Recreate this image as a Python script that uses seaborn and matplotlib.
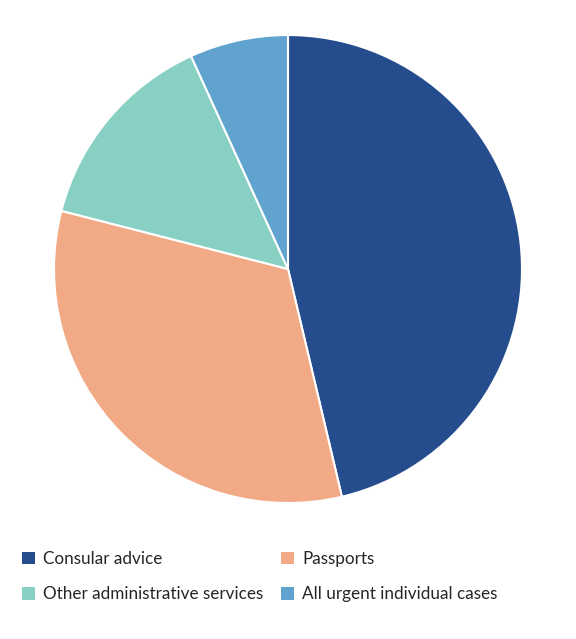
import matplotlib
matplotlib.use("Agg")
import matplotlib.pyplot as plt
import seaborn as sns
from matplotlib.patches import Patch

categories = ["Consular advice", "Passports", "Other administrative services", "All urgent individual cases"]
values = [46.3, 32.7, 14.2, 6.8]
colors = ["#254D8E", "#F1AA85", "#88D0C3", "#5FA3CE"]

sns.set_theme(style="white")
plt.rcParams['font.family'] = ['Lato', 'DejaVu Sans']

fig = plt.figure(figsize=(5.76, 6.39), dpi=100)
ax = fig.add_axes([0.5 - 0.40625, 0.579 - 0.3662, 0.8125, 0.7324])
ax.pie(values, colors=colors, startangle=90, counterclock=False,
       wedgeprops=dict(edgecolor="white", linewidth=1.5), radius=1)
ax.set_xlim(-1, 1)
ax.set_ylim(-1, 1)
ax.set_aspect("equal")
ax.axis("off")

order = [0, 2, 1, 3]
handles = [Patch(facecolor=colors[i], edgecolor="none") for i in order]
labels = [categories[i] for i in order]
fs = 12.3
leg = fig.legend(handles, labels, ncol=2, loc="upper left",
                 bbox_to_anchor=(22 / 576, 1 - 551 / 639), frameon=False,
                 borderpad=0, borderaxespad=0,
                 fontsize=fs, handlelength=0.76, handleheight=0.76,
                 handletextpad=0.47, columnspacing=1.05, labelspacing=1.14)

fig.savefig("out.png", dpi=100)
